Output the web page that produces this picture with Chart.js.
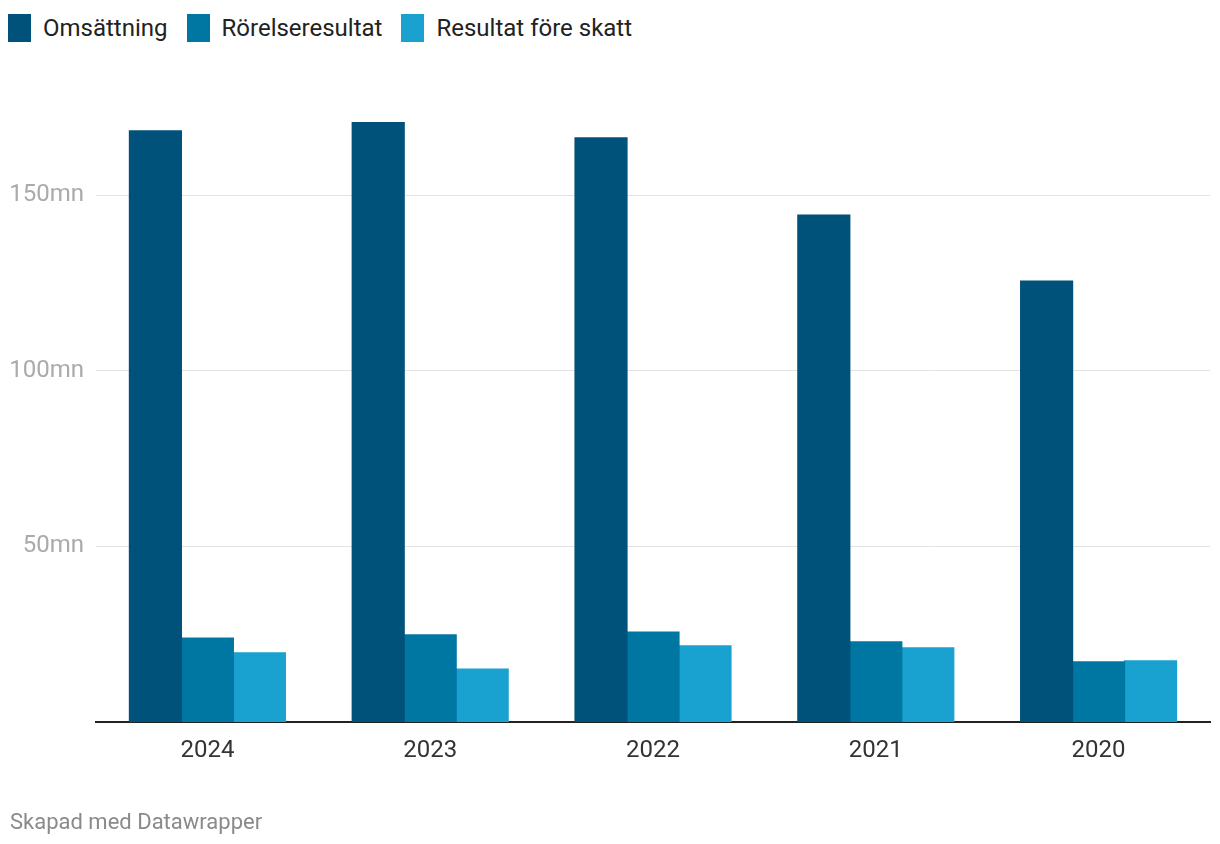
<!DOCTYPE html>
<html>
<head>
<meta charset="utf-8">
<script src="https://cdn.jsdelivr.net/npm/chart.js@4"></script>
<style>
  html, body { margin: 0; padding: 0; background: #fff; }
  body { width: 1220px; height: 844px; position: relative; overflow: hidden; font-family: Roboto, sans-serif; }
  #legend { position: absolute; left: 8px; top: 14px; display: flex; align-items: center; font-size: 24px; color: #222; }
  .item { display: flex; align-items: center; margin-right: 19px; }
  .box { width: 23px; height: 28px; margin-right: 12px; }
  #wrap { position: absolute; left: 0; top: 0; width: 1220px; height: 844px; }
  #footer { position: absolute; left: 10px; top: 809px; font-size: 22px; color: #8a8a8a; }
</style>
</head>
<body>
<div id="legend"></div>
<div id="wrap"><canvas id="c" width="1220" height="844"></canvas></div>
<div id="footer">Skapad med Datawrapper</div>
<script>
const categories = ["2024", "2023", "2022", "2021", "2020"];
const seriesNames = ["Omsättning", "Rörelseresultat", "Resultat före skatt"];
const omsattning = [168.4, 170.7, 166.4, 144.4, 125.6];
const rorelseresultat = [23.9, 24.8, 25.6, 22.8, 17.1];
const resultatForeSkatt = [19.7, 15.1, 21.7, 21.1, 17.4];
const yTicks = [0, 50, 100, 150];
const colors = ["#00527a", "#0077a3", "#19a1cf"];

const legend = document.getElementById('legend');
seriesNames.forEach((n, i) => {
  const it = document.createElement('div'); it.className = 'item';
  const b = document.createElement('div'); b.className = 'box'; b.style.background = colors[i];
  const t = document.createElement('span'); t.textContent = n;
  it.appendChild(b); it.appendChild(t); legend.appendChild(it);
});

new Chart(document.getElementById('c'), {
  type: 'bar',
  data: {
    labels: categories,
    datasets: [
      { label: seriesNames[0], data: omsattning, backgroundColor: colors[0] },
      { label: seriesNames[1], data: rorelseresultat, backgroundColor: colors[1] },
      { label: seriesNames[2], data: resultatForeSkatt, backgroundColor: colors[2] }
    ]
  },
  options: {
    responsive: false,
    animation: false,
    devicePixelRatio: 1,
    layout: { padding: { top: 90, right: 10, left: 0, bottom: 72 } },
    datasets: { bar: { categoryPercentage: 0.7, barPercentage: 1.0, borderWidth: 0, inflateAmount: 0.6 } },
    plugins: { legend: { display: false }, tooltip: { enabled: false } },
    scales: {
      x: {
        grid: { display: false, drawTicks: false },
        border: { display: true, color: '#222', width: 2 },
        ticks: { color: '#333', font: { family: 'Roboto', size: 24 }, padding: 15 },
        afterFit: (s) => { s.height = 50; }
      },
      y: {
        min: 0, max: 180,
        afterBuildTicks: (s) => { s.ticks = yTicks.map(v => ({ value: v })); },
        grid: { color: (ctx) => ctx.tick && ctx.tick.value === 0 ? 'rgba(0,0,0,0)' : '#e3e3e3', lineWidth: 1, drawTicks: false },
        border: { display: false },
        ticks: {
          color: '#aaaaaa', font: { family: 'Roboto', size: 24 }, padding: 12,
          callback: (v) => v === 0 ? '' : v + 'mn'
        },
        afterFit: (s) => { s.width = 96; }
      }
    }
  }
});
</script>
</body>
</html>
